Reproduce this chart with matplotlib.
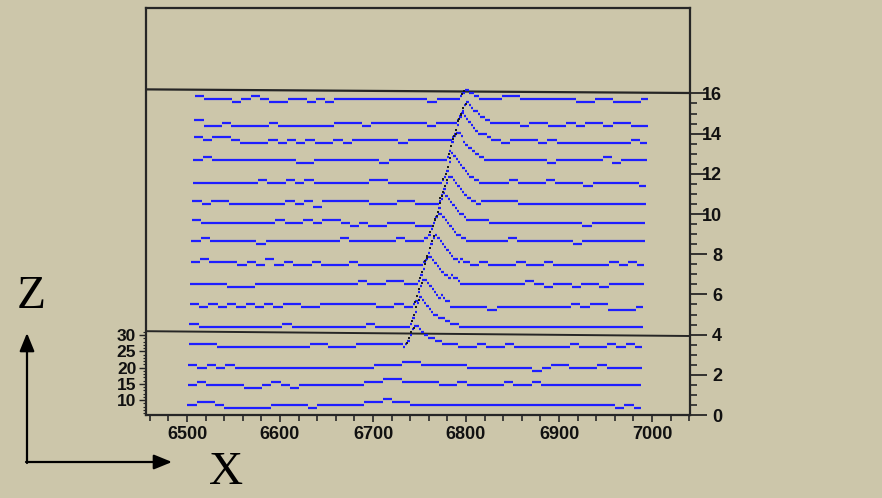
import numpy as np
import matplotlib
matplotlib.use("Agg")
import matplotlib.pyplot as plt
from matplotlib.collections import LineCollection
from matplotlib.ticker import MultipleLocator, FixedLocator

# ---------------- data ----------------
X_START = 6500.0          # first bin edge of every trace
BIN = 2.5                 # bin width
N_BINS = 195
CHUNK = 10.0              # width of one level character in ROW_LEVELS

# baseline (right axis units) of the 16 traces, bottom to top
ROW_Y = [0.52, 1.49, 2.35, 3.37, 4.39, 5.39, 6.52, 7.46,
         8.64, 9.55, 10.50, 11.53, 12.70, 13.67, 14.51, 15.74]

# baseline noise, one character per 10 units of x ('-'=-1, '0', '1'/'+'=+1, '2'=+2)
ROW_LEVELS = [
    "0110-" "----0" "000-0" "00001" "12110" "00000" "00000" "00000" "00000" "0-0-",
    "01000" "0--01" "0-000" "00001" "12211" "11001" "00001" "00100" "00000" "0000",
    "10101" "00000" "00000" "00000" "11122" "11111" "00000" "00-01" "10001" "0000",
    "11100" "00000" "00011" "00011" "11100" "01110" "01001" "00000" "01000" "1010",
    "10000" "00000" "10000" "00001" "00000" "00110" "00000" "00000" "00000" "0000",
    "10101" "01010" "11001" "11111" "00100" "00100" "00-00" "00000" "01011" "---0",
    "0000-" "--000" "00000" "00010" "01100" "00010" "00000" "010-0" "0-00-" "0000",
    "12111" "01020" "10010" "00100" "00000" "00001" "01000" "10010" "00000" "1010",
    "0+" "00000" "-" "00000000" "+" "00000" "+00+" "0000" "0000" "+" "000000-0000000",
    "+00000000" "+00+0++0-0--000--" "0000" "++" "0000" "000000-000000",
    "+0++000000+0+-+++++000++0000000++++" "00000000000000",
    "0000000" "+" "00" "+" "0" "+" "000000" "++" "000000" "0000" "000" "+" "000+" "000" "-" "00000" "-",
    "0+0" "000000" "00" "--" "0000000-" "000000" "0000" "0000000" "-" "00000" "+" "-" "000",
    "+0++0---0-0-0--0-" "00000" "-" "0000" "0000" "+0" "-000-0" "----" "----" "0-",
    "+--0---" "-" "0" "------" "0" "00-" "0" "00000-" "00" "0000" "000" "-00" "--0" "-00-" "00--",
    "+000-0+0--00-0-0000000000-000" "000" "0" "++" "000000" "--" "00" "---" "0",
]

# peaks: trace index, x of first peak bin, counts per bin
PEAK_ROWS = [3, 4, 5, 6, 7, 8, 9, 10, 11, 12, 13, 14, 15]
PEAK_START = [6732.5, 6737.5, 6740.0, 6745.0, 6750.0, 6755.0, 6760.0,
              6765.0, 6767.5, 6772.5, 6777.5, 6782.5, 6785.0]
PEAK_COUNTS = [
    [1, 2, 4, 6, 7, 7, 6, 5, 4, 4, 3, 2, 2, 1, 1, 1],
    [1, 3, 5, 8, 10, 9, 8, 7, 6, 5, 4, 4, 3, 2, 2, 1, 1],
    [1, 2, 5, 7, 9, 9, 8, 7, 6, 5, 4, 3, 3, 2, 1, 1],
    [1, 3, 5, 8, 9, 9, 8, 7, 6, 5, 4, 3, 3, 2, 2, 1, 1],
    [1, 2, 4, 7, 9, 10, 9, 8, 7, 6, 5, 4, 3, 2, 2, 1, 1],
    [1, 3, 6, 8, 9, 9, 8, 7, 6, 5, 4, 3, 2, 2, 1, 1],
    [1, 2, 5, 8, 10, 9, 8, 7, 6, 5, 4, 3, 3, 2, 1, 1],
    [1, 3, 5, 7, 9, 9, 8, 7, 6, 5, 4, 3, 2, 2, 1, 1],
    [1, 2, 4, 7, 10, 9, 8, 7, 6, 5, 4, 3, 2, 2, 1, 1],
    [1, 3, 6, 8, 9, 9, 8, 6, 5, 4, 4, 3, 2, 2, 1, 1],
    [1, 2, 5, 8, 9, 8, 7, 6, 5, 4, 3, 2, 2, 1, 1, 0],
    [1, 2, 4, 6, 7, 6, 5, 4, 4, 3, 2, 2, 1, 1, 0, 0],
    [1, 2, 3, 3, 2, 2, 1, 1, 0, 0, 0, 0, 0, 0, 0, 0],
]

X_TICKS = [6500, 6600, 6700, 6800, 6900, 7000]
Y_TICKS = [0, 2, 4, 6, 8, 10, 12, 14, 16]
Z_TICKS = [10, 15, 20, 25, 30]

# ---------------- style ----------------
BG = '#ccc6aa'
BLUE = '#1e1eff'
FRAME = '#262626'
COUNT_UNIT = 0.15     # right-axis units per count
SHEAR = 0.54          # x shift per right-axis unit (oblique projection)
W, H = 882, 498

fig = plt.figure(figsize=(W / 100, H / 100), dpi=100, facecolor=BG)

# main axes: x in data units, y in right-axis units
ax_l, ax_r, ax_b, ax_t = 146, 690, 415, 8
ax = fig.add_axes([ax_l / W, (H - ax_b) / H, (ax_r - ax_l) / W, (ax_b - ax_t) / H])
ax.set_facecolor('none')
x_left = 6500 + (ax_l - 187) / 0.93
x_right = 6500 + (ax_r - 187) / 0.93
ax.set_xlim(x_left, x_right)
ax.set_ylim(0, (ax_b - ax_t) / 20.1)

lvl_map = {'-': -1, '0': 0, '1': 1, '+': 1, '2': 2}
segs = []
dots_x, dots_y = [], []
for r, base in enumerate(ROW_Y):
    s = ROW_LEVELS[r]
    counts = np.zeros(N_BINS)
    for i in range(N_BINS):
        c = int((i * BIN) // CHUNK)
        ch = s[c] if c < len(s) else '0'
        counts[i] = lvl_map[ch]
    if r in PEAK_ROWS:
        k = PEAK_ROWS.index(r)
        i0 = int(round((PEAK_START[k] - X_START) / BIN))
        pc = PEAK_COUNTS[k]
        for j, v in enumerate(pc):
            counts[i0 + j] += v
        jmax = int(np.argmax(pc))
        for j in range(1, jmax + 1):
            xe = X_START + (i0 + j) * BIN + SHEAR * base
            ye = base + 0.5 * (counts[i0 + j - 1] + counts[i0 + j]) * COUNT_UNIT
            dots_x.append(xe - 0.6)
            dots_y.append(ye)
    # group equal bins into horizontal runs
    shift = SHEAR * base
    i = 0
    while i < N_BINS:
        j = i
        while j + 1 < N_BINS and counts[j + 1] == counts[i]:
            j += 1
        y = base + counts[i] * COUNT_UNIT
        segs.append([(X_START + i * BIN + shift, y), (X_START + (j + 1) * BIN + shift, y)])
        i = j + 1

lc = LineCollection(segs, colors=BLUE, linewidths=1.6, capstyle='butt', zorder=3)
ax.add_collection(lc)
ax.scatter(dots_x, dots_y, s=3, marker='s', color='#1a1a1a', linewidths=0, zorder=4)

# frame lines (oblique box)
xl, xr = ax.get_xlim()
ax.plot([xl, xr], [16.20, 16.02], color=FRAME, lw=1.6, solid_capstyle='butt', zorder=2)
ax.plot([xl, xr], [4.17, 3.93], color=FRAME, lw=1.4, solid_capstyle='butt', zorder=2)

for sp in ax.spines.values():
    sp.set_color(FRAME)
    sp.set_linewidth(1.6)

# x axis
ax.set_xticks(X_TICKS)
ax.xaxis.set_minor_locator(MultipleLocator(20))
ax.tick_params(axis='x', which='major', direction='out', length=5, width=1.2,
               color=FRAME, pad=3, labelsize=13)
ax.tick_params(axis='x', which='minor', direction='out', length=4, width=1.2, color=FRAME)

# right axis
ax.yaxis.tick_right()
ax.set_yticks(Y_TICKS)
ax.yaxis.set_minor_locator(FixedLocator(np.arange(Y_TICKS[0], Y_TICKS[-1] + 0.01, 0.5)))
ax.tick_params(axis='y', which='major', direction='out', length=12, width=1.3,
               color=FRAME, pad=11, labelsize=13)
ax.tick_params(axis='y', which='minor', direction='out', length=5, width=1.2, color=FRAME)
for lab in ax.get_xticklabels() + ax.get_yticklabels():
    lab.set_fontfamily('Liberation Sans')
    lab.set_fontweight('bold')
    lab.set_color('#111111')
for lab in ax.get_yticklabels():
    lab.set_horizontalalignment('right')

# left Z axis (short)
z_b, z_t = 413, 330
az = fig.add_axes([ax_l / W, (H - z_b) / H, 0.0005, (z_b - z_t) / H])
az.set_facecolor('none')
az.set_ylim(10 - (z_b - 400) / 3.25, 10 + (400 - z_t) / 3.25)
az.set_xticks([])
az.set_yticks(Z_TICKS)
az.yaxis.set_minor_locator(MultipleLocator(1))
for k in ('top', 'bottom', 'right'):
    az.spines[k].set_visible(False)
az.spines['left'].set_color(FRAME)
az.spines['left'].set_linewidth(1.2)
az.tick_params(axis='y', which='major', length=5, width=1.0, color=FRAME, pad=2, labelsize=12.5)
az.tick_params(axis='y', which='minor', length=2.5, width=0.8, color=FRAME)
for lab in az.get_yticklabels():
    lab.set_fontfamily('Liberation Sans')
    lab.set_fontweight('bold')
    lab.set_color('#111111')

# overlay for axis-direction arrows and letters
ov = fig.add_axes([0, 0, 1, 1])
ov.set_xlim(0, W)
ov.set_ylim(H, 0)
ov.axis('off')
ov.set_facecolor('none')
ov.annotate('', xy=(27, 333), xytext=(27, 463),
            arrowprops=dict(arrowstyle='-|>,head_length=1.1,head_width=0.45',
                            color='black', lw=1.6, shrinkA=0, shrinkB=0))
ov.annotate('', xy=(172, 462), xytext=(26, 462),
            arrowprops=dict(arrowstyle='-|>,head_length=1.1,head_width=0.45',
                            color='black', lw=1.6, shrinkA=0, shrinkB=0))
ov.text(31, 297, 'Z', fontsize=34, family='Liberation Serif', ha='center', va='center')
ov.text(226, 473, 'X', fontsize=34, family='Liberation Serif', ha='center', va='center')

fig.savefig('out.png', dpi=100, facecolor=BG)
